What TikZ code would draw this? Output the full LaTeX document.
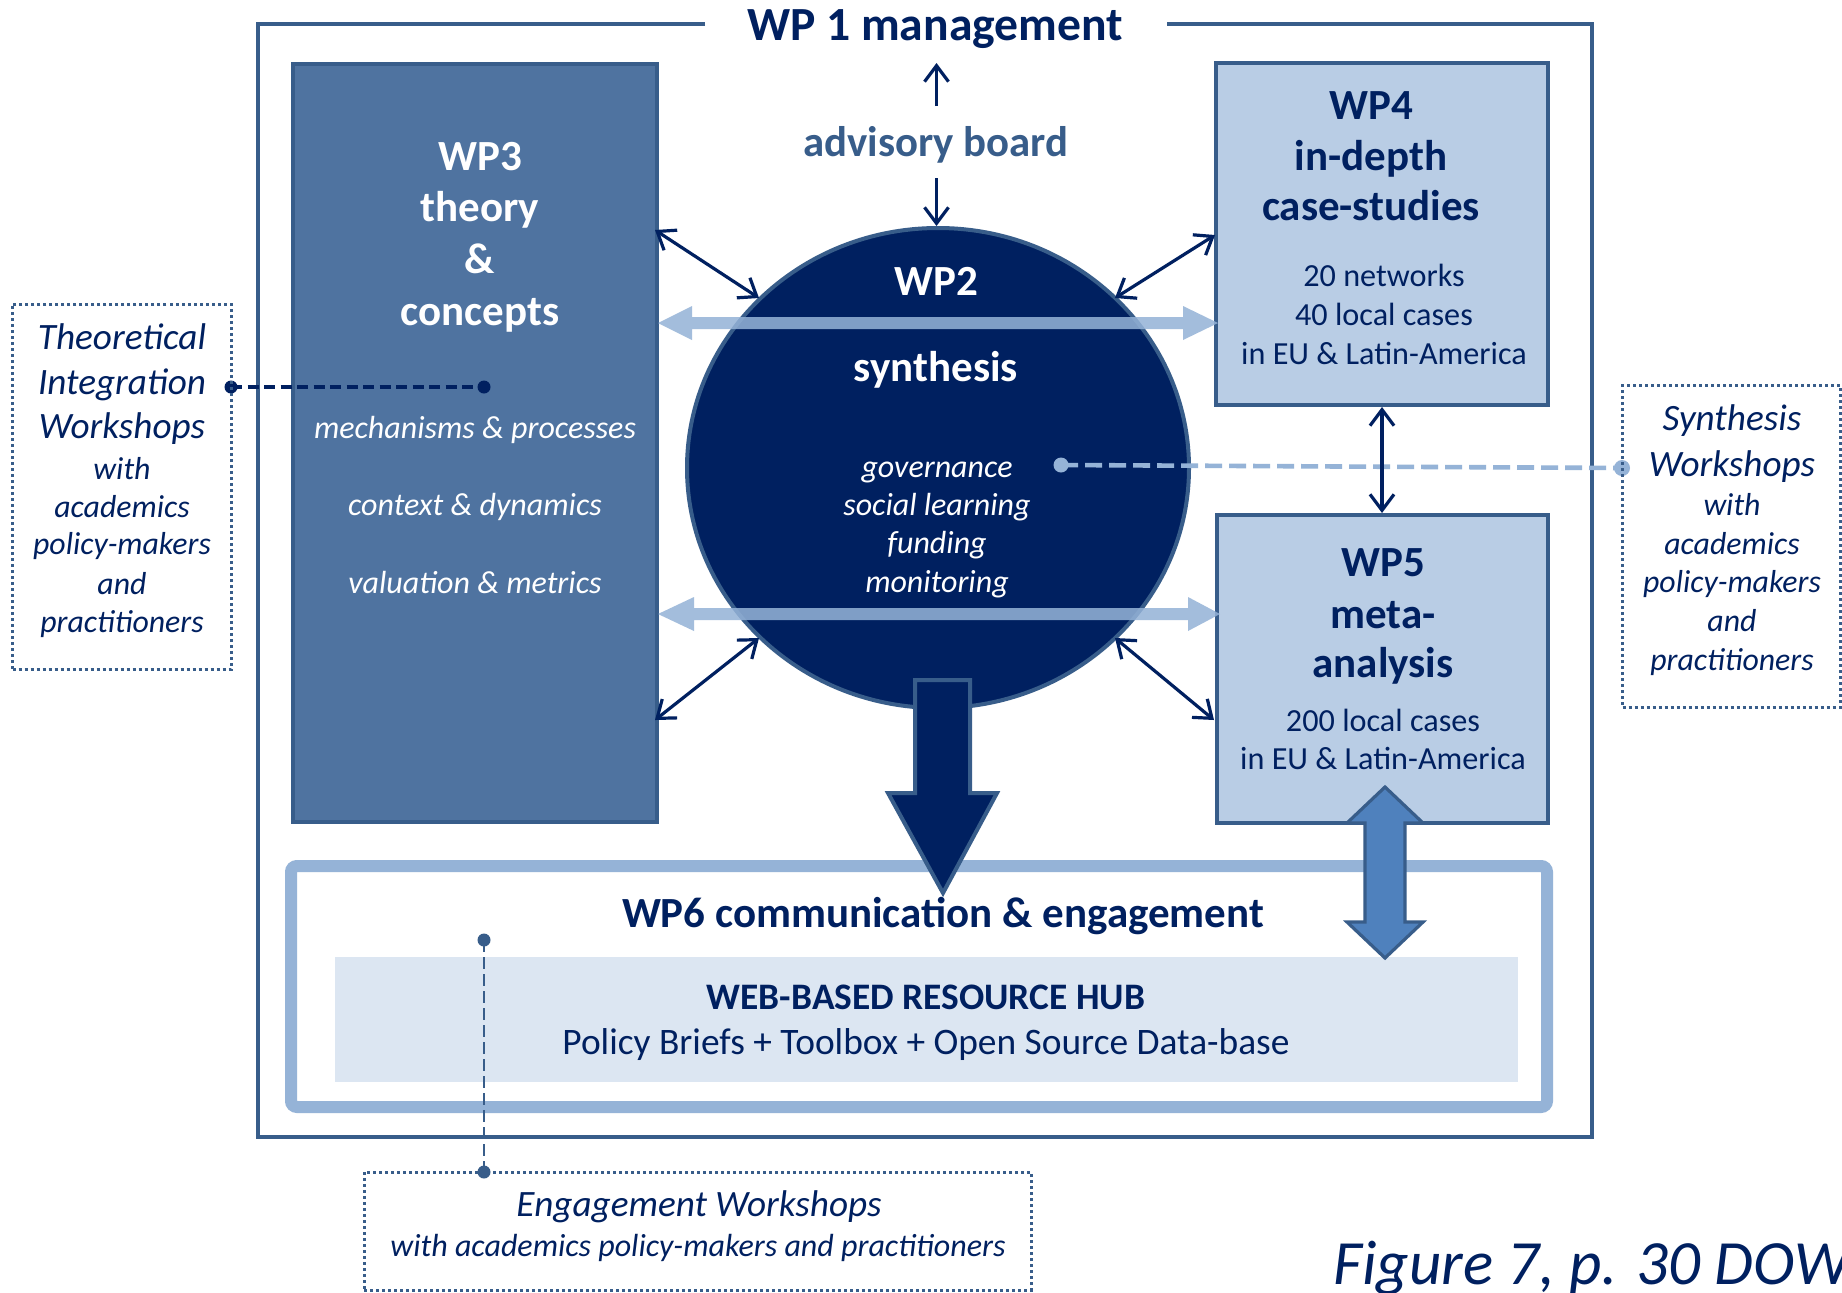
\documentclass[tikz,border=0pt]{standalone}
\usepackage{fontspec}
\setmainfont{Carlito}
\usetikzlibrary{arrows.meta,shapes.geometric}
\definecolor{navy}{HTML}{002060}
\definecolor{midblue}{HTML}{385D8A}
\definecolor{wpthree}{HTML}{4F73A0}
\definecolor{paleblue}{HTML}{B9CDE5}
\definecolor{lightblue}{HTML}{95B3D7}
\definecolor{hubfill}{HTML}{DCE6F2}
\definecolor{accentblue}{HTML}{4F81BD}
\begin{document}
\begin{tikzpicture}[x=0.5pt,y=-0.5pt,
  tx/.style={anchor=base, inner sep=0pt},
  hdw/.style={tx, text=white, font=\fontsize{21.5}{25}\selectfont\bfseries},
  hdn/.style={tx, text=navy, font=\fontsize{21.5}{25}\selectfont\bfseries},
  itw/.style={tx, text=white, font=\fontsize{16}{18}\selectfont\itshape},
  smn/.style={tx, text=navy, font=\fontsize{16.1}{18}\selectfont},
  wsbig/.style={tx, text=navy, font=\fontsize{18.6}{21}\selectfont\itshape},
  wssm/.style={tx, text=navy, font=\fontsize{15.9}{18}\selectfont\itshape},
  thinarr/.style={navy, line width=1.6pt, {Straight Barb[length=8pt,width=12pt]}-{Straight Barb[length=8pt,width=12pt]}},
  onearr/.style={navy, line width=1.6pt, -{Straight Barb[length=8pt,width=12pt]}},
  dotbox/.style={draw=midblue, line width=1.5pt, dash pattern=on 1.5pt off 1.5pt, inner sep=0pt},
  wpbox/.style={draw=midblue, line width=2pt, inner sep=0pt},
  dotmark/.style={circle, inner sep=0pt},
]
\clip (0,0) rectangle (1842,1292);
\fill[white] (0,0) rectangle (1842,1292);

% WP1 frame
\coordinate (frl) at (705,24);
\coordinate (frr) at (1167,24);
\draw[midblue, line width=2pt] (frl) -- (258,24) -- (258,1137) -- (1592,1137) -- (1592,24) -- (frr);
\node[tx, text=navy, font=\fontsize{23.8}{27}\selectfont\bfseries] (title) at (935,40) {WP 1 management};

% boxes
\node[wpbox, fill=wpthree, minimum width=182pt, minimum height=379pt] (wp3) at (475,442.5) {};
\node[wpbox, fill=paleblue, minimum width=166pt, minimum height=171pt] (wp4) at (1382,234) {};
\node[wpbox, fill=paleblue, minimum width=165.5pt, minimum height=154pt] (wp5) at (1382.5,669) {};

% WP6
\node[draw=lightblue, line width=6pt, rounded corners=3pt, minimum width=628pt, minimum height=120.5pt, inner sep=0pt] (wp6) at (919,986.5) {};
\node[fill=hubfill, minimum width=591.5pt, minimum height=62.5pt, inner sep=0pt] (hub) at (926.5,1019.5) {};

% WP2 circle
\node[ellipse, draw=midblue, line width=2pt, fill=navy, minimum width=251pt, minimum height=240pt, inner sep=0pt] (wp2) at (938,468) {};

% light blue double arrows
\fill[lightblue, fill opacity=0.86] (658,323) -- (692,306) -- (692,317) -- (1183,317) -- (1183,306) -- (1218,323) -- (1183,340) -- (1183,329) -- (692,329) -- (692,340) -- cycle;
\fill[lightblue, fill opacity=0.86] (658,614) -- (694,597) -- (694,608) -- (1188,608) -- (1188,597) -- (1220,614) -- (1188,631) -- (1188,620) -- (694,620) -- (694,631) -- cycle;

% big down arrow
\draw[midblue, line width=2pt, fill=navy] (915,680) -- (970,680) -- (970,793) -- (997,793) -- (943,893) -- (888,793) -- (915,793) -- cycle;

% blue vertical double arrow WP5 - WP6
\draw[midblue, line width=1.6pt, fill=accentblue] (1385,787) -- (1423,823) -- (1405,823) -- (1405,922) -- (1423,922) -- (1385,958) -- (1347,922) -- (1365,922) -- (1365,823) -- (1347,823) -- cycle;

% dashed connectors
\node[dotmark, fill=navy, minimum size=6.5pt] (tdl) at (231,387) {};
\node[dotmark, fill=navy, minimum size=6.5pt] (tdr) at (484,387) {};
\draw[navy, line width=1.6pt, dash pattern=on 5.5pt off 2.75pt] (tdl.center) -- (tdr.center);

\node[dotmark, fill=lightblue, minimum size=7.5pt] (sdl) at (1061,465) {};
\node[dotmark, fill=lightblue, minimum size=8pt] (sdr) at (1622,468) {};
\draw[lightblue, line width=2.3pt, dash pattern=on 8.5pt off 3.5pt] (sdl.center) -- (sdr.center);

\node[dotmark, fill=midblue, minimum size=6.5pt] (edt) at (484,940) {};
\node[dotmark, fill=midblue, minimum size=6.5pt] (edb) at (484,1172) {};
\draw[midblue, line width=1.3pt, dash pattern=on 6pt off 2.5pt] (edt.center) -- (edb.center);

% thin arrows
\coordinate (d1a) at (655,230); \coordinate (d1b) at (759,298);
\coordinate (d2a) at (1215,235); \coordinate (d2b) at (1115,298);
\coordinate (d3a) at (655,720); \coordinate (d3b) at (759,638);
\coordinate (d4a) at (1214,720); \coordinate (d4b) at (1115,638);
\draw[thinarr] (d1a) -- (d1b);
\draw[thinarr] (d2a) -- (d2b);
\draw[thinarr] (d3a) -- (d3b);
\draw[thinarr] (d4a) -- (d4b);
\coordinate (v45a) at (1382,407); \coordinate (v45b) at (1382,513);
\draw[thinarr] (v45a) -- (v45b);

% advisory board
\node[tx, text=midblue, font=\fontsize{21.4}{25}\selectfont\bfseries] (adv) at (936,156.5) {advisory board};
\coordinate (advtop) at (936.5,106); \coordinate (titlebot) at (936.5,63);
\coordinate (advbot) at (936.5,178);
\draw[onearr] (advtop) -- (titlebot);
\draw[onearr] (advbot) -- (advbot |- wp2.north);

% WP3 text
\node[hdw] (wp3a) at (480,170) {WP3};
\node[hdw] (wp3b) at (480,221.5) {theory};
\node[hdw] (wp3c) at (480,273) {\&};
\node[hdw] (wp3d) at (480,325) {concepts};
\node[itw] (wp3e) at (475,438) {mechanisms \& processes};
\node[itw] (wp3f) at (475,515) {context \& dynamics};
\node[itw] (wp3g) at (475,593) {valuation \& metrics};

% WP2 text
\node[hdw] (wp2a) at (936,295) {WP2};
\node[hdw] (wp2b) at (936,381) {synthesis};
\node[itw] (wp2c) at (937,477) {governance};
\node[itw] (wp2d) at (937,515) {social learning};
\node[itw] (wp2e) at (937,553) {funding};
\node[itw] (wp2f) at (937,592) {monitoring};

% WP4 text
\node[hdn] (wp4a) at (1371,119) {WP4};
\node[hdn] (wp4b) at (1371,170) {in-depth};
\node[hdn] (wp4c) at (1371,220) {case-studies};
\node[smn] (wp4d) at (1384,286) {20 networks};
\node[smn] (wp4e) at (1384,325) {40 local cases};
\node[smn] (wp4f) at (1384,364) {in EU \& Latin-America};

% WP5 text
\node[hdn] (wp5a) at (1383,576) {WP5};
\node[hdn] (wp5b) at (1383,628) {meta-};
\node[hdn] (wp5c) at (1383,677) {analysis};
\node[smn] (wp5d) at (1383,731.5) {200 local cases};
\node[smn] (wp5e) at (1383,769.5) {in EU \& Latin-America};

% WP6 text
\node[hdn] (wp6t) at (943,927) {WP6 communication \& engagement};
\node[tx, text=navy, font=\fontsize{18.7}{22}\selectfont\bfseries] (hubt) at (926,1009) {WEB-BASED RESOURCE HUB};
\node[tx, text=navy, font=\fontsize{18.7}{22}\selectfont] (hubs) at (926,1054) {Policy Briefs + Toolbox + Open Source Data-base};

% Theoretical Integration Workshops
\node[dotbox, minimum width=109.25pt, minimum height=182.5pt] (tiw) at (121.75,486.5) {};
\node[wsbig] (tiw1) at (122,349) {Theoretical};
\node[wsbig] (tiw2) at (122,394) {Integration};
\node[wsbig] (tiw3) at (122,438.5) {Workshops};
\node[wssm] (tiw4) at (122,479) {with};
\node[wssm] (tiw5) at (122,517) {academics};
\node[wssm] (tiw6) at (122,554) {policy-makers};
\node[wssm] (tiw7) at (122,594) {and};
\node[wssm] (tiw8) at (122,632.5) {practitioners};

% Synthesis Workshops
\node[dotbox, minimum width=108.75pt, minimum height=161pt] (sw) at (1731.25,546) {};
\node[wsbig] (sw1) at (1732,430) {Synthesis};
\node[wsbig] (sw2) at (1732,476) {Workshops};
\node[wssm] (sw3) at (1732,515) {with};
\node[wssm] (sw4) at (1732,554) {academics};
\node[wssm] (sw5) at (1732,592.5) {policy-makers};
\node[wssm] (sw6) at (1732,631) {and};
\node[wssm] (sw7) at (1732,670) {practitioners};

% Engagement Workshops
\node[dotbox, minimum width=333.5pt, minimum height=59pt] (ew) at (697.5,1231) {};
\node[wsbig] (ew1) at (699,1216) {Engagement Workshops};
\node[tx, text=navy, font=\fontsize{16}{18}\selectfont\itshape] (ew2) at (698,1256) {with academics policy-makers and practitioners};

% caption
\node[anchor=base west, inner sep=0pt, text=navy, font=\fontsize{31.5}{36}\selectfont\itshape] (fig) at (1333,1284) {Figure 7, p. 30 DOW};
\end{tikzpicture}
\end{document}
